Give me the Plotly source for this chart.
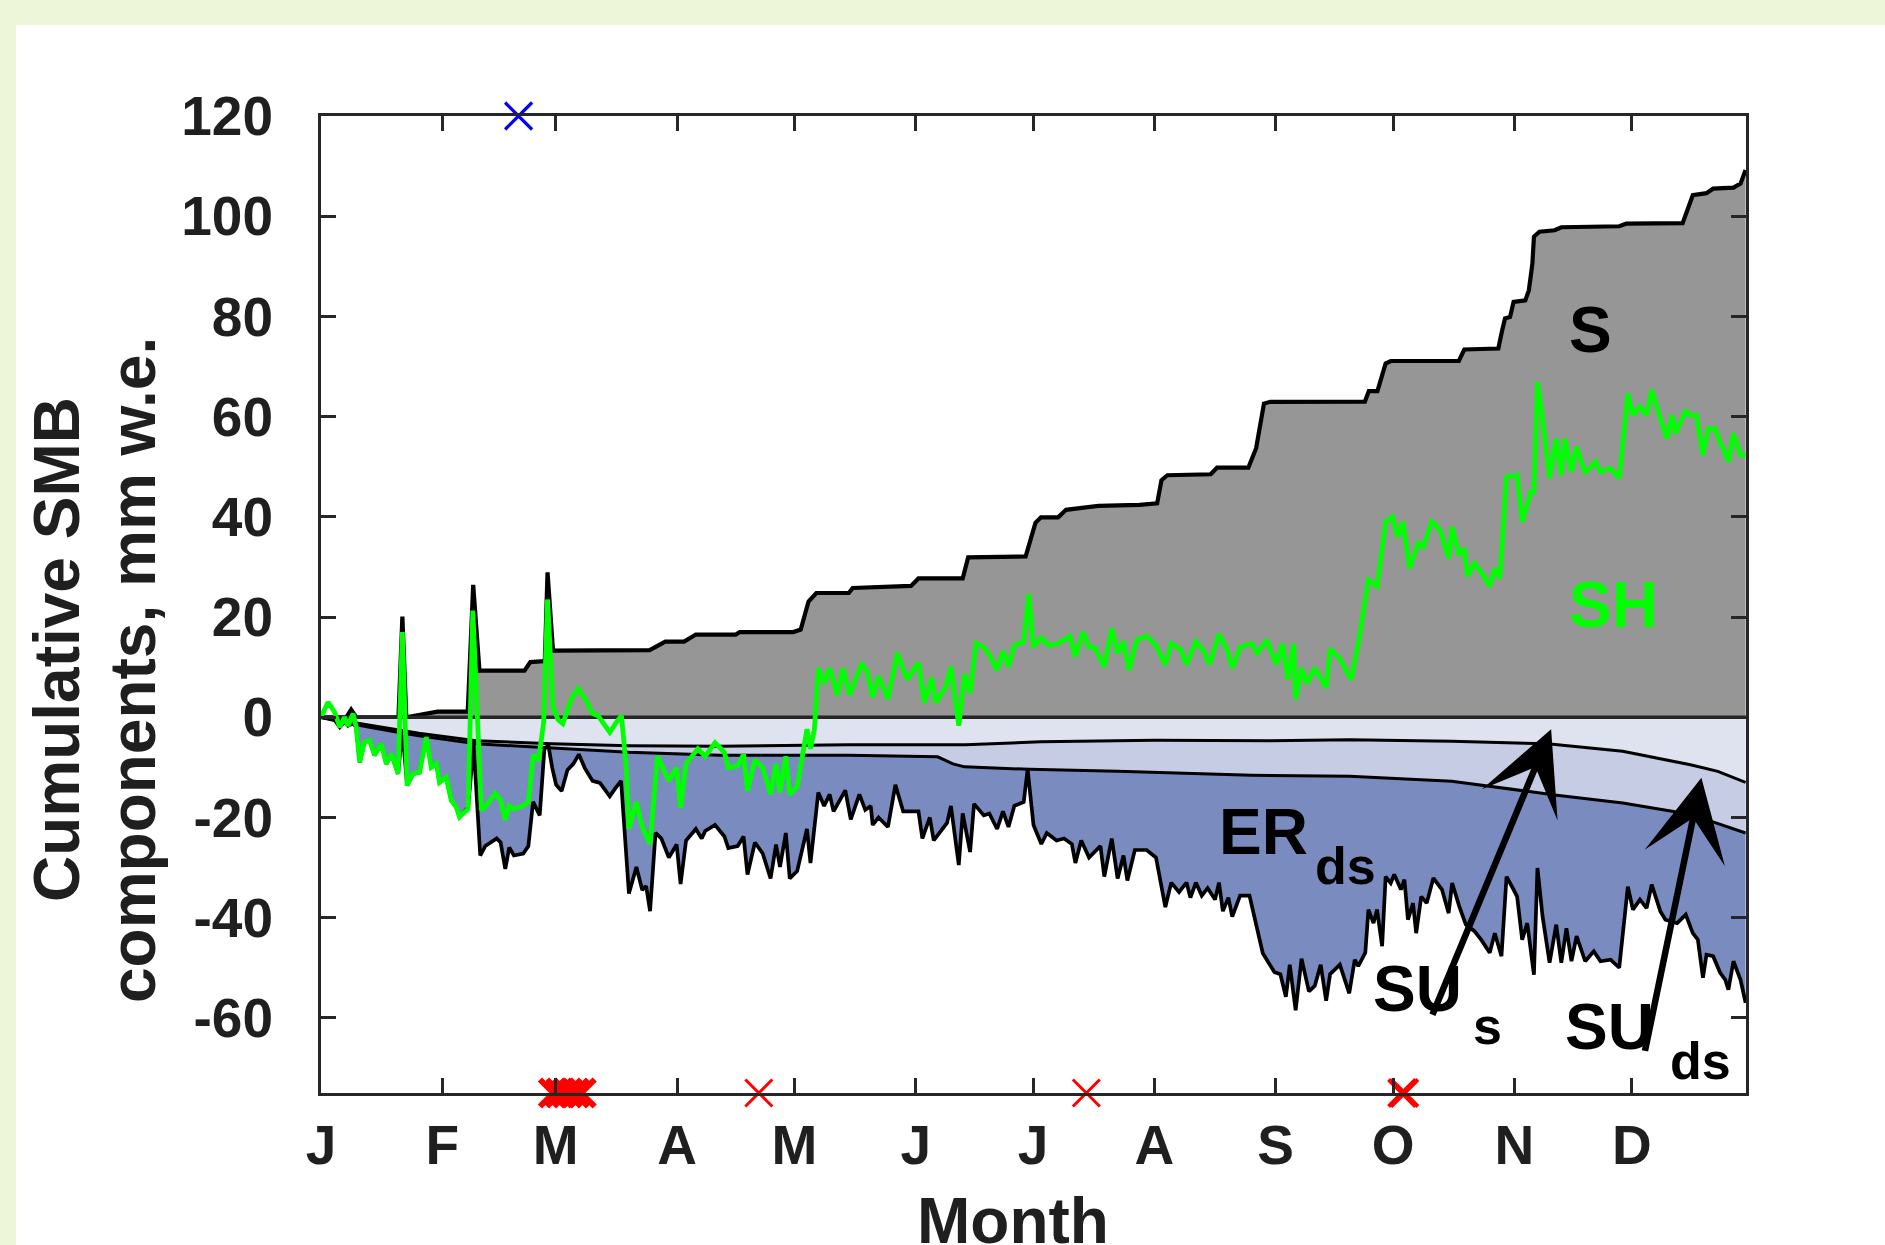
import plotly.graph_objects as go

# ---------------- axis definitions ----------------
X_MIN, X_MAX = 0, 364.2
Y_MIN, Y_MAX = -75, 120
month_tick_days = [0, 31, 60, 91, 121, 152, 182, 213, 244, 274, 305, 335]
month_labels = ["J", "F", "M", "A", "M", "J", "J", "A", "S", "O", "N", "D"]
y_tick_vals = [-60, -40, -20, 0, 20, 40, 60, 80, 100, 120]
y_tick_text = ["-60", "-40", "-20", "0", "20", "40", "60", "80", "100", "120"]

# ---------------- S : cumulative snowfall (upper envelope) ----------------
s_days = [0, 6.5, 7.7, 9, 19.8, 20.8, 21.8, 25, 29.8, 37.5, 38.9, 40.5, 52, 53.5, 57.2, 57.9,
          59.3, 84, 85.5, 88, 92.8, 95.8, 106, 107, 120.7, 122.6, 124.6, 126.6, 134.9, 135.9,
          150.8, 152.7, 164, 165.4, 180.1, 181.1, 182.6, 184, 188.4, 190.4, 198.7, 209.2, 213.7,
          214.8, 216.3, 227.4, 229, 237, 239, 241, 242.6, 266.8, 267.8, 270, 272.1, 273.4, 290.8,
          292.2, 300.9, 301.7, 302.6, 303.9, 304.8, 307.8, 308.7, 309.6, 310, 311.4, 315.3, 317,
          331.8, 333.6, 348, 350.6, 354.1, 355.8, 361, 362.8, 364.1]
s_vals = [0, 0, 1.5, 0, 0, 20.1, 0, 0.4, 1.1, 1.1, 26.4, 9.3, 9.3, 11, 11.2, 28.9,
          13.3, 13.4, 14, 15.1, 15.1, 16.5, 16.5, 17, 17, 17.5, 23.1, 24.8, 24.8, 25.8,
          26.2, 27.7, 27.7, 31.9, 32.1, 35, 38.8, 39.9, 39.9, 41.4, 42.2, 42.4, 42.7,
          47.3, 48.3, 48.5, 49.8, 49.8, 53.7, 62.6, 62.95, 63.0, 65.1, 65.1, 70.6, 71.1, 71.1,
          73.4, 73.6, 76.6, 79.6, 79.9, 82.9, 83.2, 85.2, 90.5, 95.9, 96.9, 97.2, 97.8,
          98, 98.5, 98.6, 104.2, 104.6, 105.5, 105.7, 106.5, 109.2]

# ---------------- SU_s : surface sublimation ----------------
su_s_days = [0, 9, 16.7, 25, 39.7, 59, 78.7, 102, 135, 164.8, 184, 213, 242.7, 262.9, 289,
             313.5, 332.7, 350, 357, 364.1]
su_s_vals = [0, -1.2, -2.2, -3.2, -4.7, -5.3, -5.7, -5.8, -5.5, -5.5, -4.9, -4.6, -4.7, -4.5, -4.8,
             -5.3, -6.8, -9.5, -10.8, -13.0]

# ---------------- SU_s + SU_ds : total sublimation ----------------
su_tot_days = [0, 9, 16.7, 25, 39.7, 59, 78.7, 102, 135, 157.6, 161.5, 164.5, 181.1, 203.6,
               237.8, 262.9, 289, 315.3, 332.7, 345.7, 355.4, 364.1]
su_tot_vals = [0, -1.5, -2.6, -3.7, -5.3, -6.1, -7.0, -7.6, -7.6, -7.9, -9.3, -9.9, -10.4, -10.8,
               -11.6, -11.8, -12.8, -15.5, -17.1, -18.8, -20.8, -23.1]

# ---------------- lower envelope incl. ER_ds (drifting-snow erosion) ----------------
er_days = [0, 1.8, 3.5, 4.8, 6.0, 6.9, 8.2, 9.0, 9.9, 11.1, 12.4, 13.7, 15.4, 16.7, 18.0, 19.7,
           20.8, 22.0, 23.5, 25.2, 26.9, 28.2, 29.5, 30.3, 32.0, 33.3, 34.6, 35.4, 37.6, 39.0,
           40.7, 42.0, 44.9, 45.9, 47.1, 48.1, 49.3, 51.7, 53.0, 54.2, 55.9, 57.1, 58.1, 59.1,
           60.1, 61.5, 63.0, 64.5, 65.9, 67.4, 69.4, 71.3, 73.8, 75.2, 76.7, 78.7, 80.6, 82.1,
           83.1, 84.1, 85.5, 87.0, 88.9, 90.9, 91.9, 93.3, 95.8, 97.3, 98.2, 100.7, 103.1, 104.1,
           106.5, 108.0, 109.0, 110.9, 112.9, 114.9, 116.3, 117.3, 118.8, 119.8, 121.7, 124.2,
           125.1, 127.1, 128.6, 130.0, 131.0, 134.0, 135.4, 137.6, 139.1, 140.5, 141.0, 142.5,
           144.9, 146.8, 148.8, 152.7, 153.7, 155.6, 156.6, 160.0, 161.0, 163.0, 164.0, 165.9,
           166.9, 169.4, 170.8, 172.8, 174.3, 175.7, 177.2, 179.6, 180.6, 182.1, 184.1, 185.5,
           188.0, 189.9, 191.9, 192.8, 194.3, 196.3, 199.2, 200.2, 202.1, 203.6, 205.1, 206.1,
           208.0, 211.0, 213.4, 215.8, 217.3, 219.3, 221.2, 222.2, 223.6, 225.1, 226.6, 228.5,
           229.5, 230.5, 231.9, 232.9, 234.9, 237.3, 238.8, 240.7, 243.7, 245.2, 246.6, 247.6,
           249.1, 250.6, 252.5, 254.0, 255.5, 256.9, 257.9, 260.4, 262.8, 264.2, 265.1, 266.9,
           267.7, 269.0, 269.9, 271.2, 272.1, 273.4, 274.3, 276.0, 276.9, 277.8, 279.1, 279.9,
           281.2, 282.6, 284.3, 286.5, 288.2, 289.1, 290.9, 292.6, 294.8, 296.5, 298.7, 300.0,
           301.7, 303.0, 304.8, 305.7, 307.0, 308.3, 310.0, 310.9, 312.2, 314.0, 315.7, 317.0,
           318.3, 319.6, 320.9, 323.1, 325.3, 327.0, 329.6, 331.8, 334.0, 335.3, 337.1, 338.8,
           340.1, 342.3, 343.6, 346.6, 348.8, 350.6, 351.9, 353.2, 354.1, 355.8, 357.6, 358.9,
           359.7, 361.0, 362.8, 364.1]
er_vals = [0, -0.4, -0.6, -2.0, -0.9, -1.7, -1.2, -2.0, -9.0, -5.0, -4.6, -7.6, -5.3, -9.3, -7.3, -11.3,
           -2.6, -13.6, -11.3, -11.0, -4.0, -10.0, -9.3, -13.0, -12.0, -16.6, -18.0, -19.9, -18.0, -5.5,
           -27.6, -25.7, -24.2, -25.0, -30.3, -26.0, -27.6, -27.2, -25.7, -16.9, -19.6, -6.3, -5.6, -10.1,
           -13.5, -14.7, -10.5, -9.3, -7.4, -10.1, -12.7, -13.1, -15.8, -14.2, -12.7, -35.2, -29.9, -34.5,
           -33.7, -38.7, -23.1, -24.2, -28.0, -25.4, -33.3, -24.6, -22.3, -24.2, -22.7, -21.5, -23.8, -26.1,
           -25.7, -23.8, -31.4, -25.0, -27.2, -32.2, -25.4, -29.9, -23.1, -32.2, -30.7, -22.3,
           -29.1, -15.0, -17.7, -15.4, -18.8, -14.6, -20.4, -15.4, -18.5, -17.7, -21.5, -20.0,
           -21.9, -13.5, -18.8, -18.8, -24.2, -20.0, -24.6, -21.1, -17.7, -29.5, -19.2, -26.9,
           -17.3, -19.6, -19.2, -22.3, -18.8, -21.9, -17.7, -16.9, -10.4, -21.5, -25.3, -23.1,
           -24.6, -24.2, -25.3, -29.1, -24.6, -28.0, -25.7, -31.8, -24.2, -32.2, -27.6, -32.6,
           -26.5, -26.5, -28.0, -37.9, -33.0, -34.9, -33.0, -36.0, -33.0, -35.6, -34.1, -36.4,
           -33.0, -38.7, -36.0, -39.8, -35.6, -35.6, -40.6, -47.1, -50.9, -51.3, -55.8, -49.4,
           -58.5, -48.2, -54.7, -53.6, -49.4, -56.6, -51.3, -49.4, -55.1, -48.4, -49.7, -47.0,
           -38.4, -41.1, -38.4, -45.7, -31.8, -33.1, -31.4, -34.4, -32.4, -40.4, -37.1, -43.1,
           -35.8, -37.1, -32.1, -34.4, -39.1, -33.1, -37.7, -41.4, -42.7, -44.4, -47.0, -43.1,
           -47.7, -31.8, -34.4, -35.8, -44.4, -41.1, -51.4, -30.1, -39.7, -49.0, -41.4, -49.0,
           -42.1, -48.7, -43.7, -48.7, -46.7, -48.7, -48.4, -50.0, -33.8, -38.4, -36.4, -38.1,
           -33.4, -38.7, -40.4, -41.1, -39.4, -43.1, -44.4, -52.0, -47.4, -47.7, -51.0, -52.4,
           -54.4, -48.7, -52.4, -57.0]

# ---------------- SH : surface height change (green) ----------------
sh_days = [0, 1.8, 3.5, 4.8, 6.0, 6.9, 8.2, 9.0, 9.9, 11.1, 12.4, 13.7, 15.4, 16.7, 18.0, 19.7,
           20.8, 22.0, 23.5, 25.2, 26.9, 28.2, 29.5, 30.3, 32.0, 33.3, 34.6, 35.4, 37.6, 38.8,
           41.0, 42.6, 44.5, 45.9, 47.1, 48.1, 49.3, 51.7, 53.0, 54.3, 55.6, 56.9, 57.9, 59.3,
           60.6, 61.8, 64.0, 65.7, 67.8, 69.5, 70.8, 73.8, 75.5, 76.8, 78.0, 78.7, 80.6, 82.1,
           84.1, 86.0, 88.9, 90.9, 91.9, 93.3, 96.3, 98.2, 100.7, 103.1, 104.1, 106.5, 108.0,
           109.0, 110.9, 112.9, 114.9, 116.3, 117.3, 118.8, 119.8, 121.7, 124.2, 125.1, 126.1,
           127.1, 128.6, 130.0, 132.0, 133.4, 135.1, 138.1, 139.5, 141.0, 142.5, 144.9, 147.3,
           149.8, 152.7, 154.2, 156.1, 157.1, 159.6, 161.0, 163.0, 164.5, 165.9, 167.4, 169.4,
           170.8, 172.8, 174.3, 175.7, 177.2, 179.6, 180.9, 182.1, 184.1, 186.0, 188.5, 191.4,
           192.8, 194.8, 196.3, 197.7, 200.2, 202.1, 203.6, 205.1, 206.5, 208.5, 211.0, 213.4,
           215.8, 217.3, 219.7, 221.2, 223.6, 225.6, 227.1, 229.5, 231.5, 232.9, 234.9, 237.8,
           239.3, 241.7, 244.2, 245.7, 247.1, 248.6, 249.1, 250.6, 252.0, 254.0, 256.9, 257.9,
           260.4, 263.3, 265.2, 267.7, 269.9, 272.1, 273.8, 275.2, 276.5, 278.2, 280.4, 281.7,
           283.9, 286.0, 288.2, 289.1, 290.8, 292.2, 293.0, 294.8, 297.0, 298.7, 300.0, 301.3,
           303.0, 305.7, 307.0, 309.2, 310.0, 310.9, 312.2, 314.0, 315.7, 317.0, 317.9, 319.6,
           320.9, 323.1, 325.7, 327.0, 329.6, 331.8, 334.0, 335.3, 337.1, 338.8, 340.1, 341.9,
           344.0, 345.3, 346.2, 348.8, 349.7, 351.5, 353.2, 354.5, 356.3, 357.6, 358.4, 359.7,
           361.0, 362.8, 364.1]
sh_vals = [0, 3.0, 1.0, -2.0, 0, -1.7, 0.7, -2.0, -9.0, -5.0, -4.6, -7.6, -5.3, -9.3, -7.3, -11.3,
           17.0, -13.6, -11.3, -11.0, -4.0, -10.0, -9.3, -13.0, -12.0, -16.6, -18.0, -19.9, -18.3, 21.3,
           -18.6, -17.3, -15.2, -16.5, -20.5, -17.7, -18.3, -17.7, -16.9, -7.5, -8.6, -1.0, 23.5, 2.0,
           -0.5, -1.3, 3.7, 5.7, 3.3, 0.7, 0.3, -3.0, -1.0, 0.3, -10.0, -22.3, -16.9, -21.9,
           -25.3, -7.8, -12.7, -10.1, -18.1, -9.3, -6.3, -7.8, -5.1, -7.0, -10.1, -9.7, -7.4,
           -14.7, -8.5, -10.1, -15.4, -9.3, -15.0, -7.8, -15.4, -13.9, -2.4, -6.3, -2.4,
           9.8, 6.7, 9.8, 4.4, 9.8, 4.4, 10.5, 9.4, 4.0, 8.2, 3.6, 12.8,
           7.5, 10.9, 2.9, 7.9, 2.9, 5.9, 10.1, -1.7, 8.6, 4.8, 14.7, 14.0,
           12.4, 9.4, 13.2, 10.1, 14.3, 15.1, 24.6, 14.0, 15.9, 14.3, 14.7, 16.2,
           12.1, 17.0, 14.0, 14.0, 10.1, 17.7, 12.8, 15.1, 9.4, 15.4, 16.2, 14.3,
           10.5, 14.7, 13.6, 10.5, 15.1, 13.2, 10.5, 16.6, 13.6, 9.8, 14.0, 14.7,
           12.8, 15.4, 10.5, 14.7, 7.5, 14.7, 3.6, 9.8, 6.7, 9.8, 5.9, 13.6,
           11.7, 7.5, 15.1, 27.4, 26.1, 39.0, 40.0, 36.0, 39.0, 29.7, 34.7, 34.0,
           39.0, 37.4, 31.7, 38.0, 32.4, 33.7, 28.1, 30.7, 28.4, 26.1, 29.7, 27.7,
           48.0, 48.3, 39.0, 45.0, 45.0, 66.9, 59.6, 47.7, 55.6, 48.3, 55.6, 49.0,
           54.0, 48.7, 51.0, 49.0, 49.7, 47.7, 64.6, 60.3, 62.0, 60.3, 65.3, 60.6,
           55.6, 60.3, 56.6, 61.3, 60.3, 60.3, 52.3, 57.6, 57.6, 54.7, 53.7, 51.0,
           56.6, 52.3, 52.3]

# ---------------- event markers ----------------
blue_event_days = [50.5]
red_cluster_days = [59.4, 61.2, 63.0, 64.8, 66.5]
red_event_days = [111.9, 195.6]
red_double_days = [276.3, 276.9]

# ---------------- styling ----------------
FONT = "Liberation Sans, Arial, sans-serif"
AX_COL = "#262626"
GRAY = "#969696"
LIGHT1 = "#DFE3EF"
LIGHT2 = "#C5CCE4"
DARK = "#7A8BBF"
GREEN = "#00FF00"

fig = go.Figure()

fig.add_trace(go.Scatter(x=s_days, y=s_vals, mode="lines", fill="tozeroy", fillcolor=GRAY,
                         line=dict(color="black", width=4.2), hoverinfo="skip"))
fig.add_trace(go.Scatter(x=su_s_days, y=su_s_vals, mode="lines", fill="tozeroy", fillcolor=LIGHT1,
                         line=dict(color="black", width=3), hoverinfo="skip"))
fig.add_trace(go.Scatter(x=su_tot_days, y=su_tot_vals, mode="lines", fill="tonexty", fillcolor=LIGHT2,
                         line=dict(color="black", width=3), hoverinfo="skip"))
fig.add_trace(go.Scatter(x=er_days, y=er_vals, mode="lines", fill="tonexty", fillcolor=DARK,
                         line=dict(color="black", width=3.7), hoverinfo="skip"))
# zero reference line
fig.add_trace(go.Scatter(x=[X_MIN, X_MAX], y=[0, 0], mode="lines",
                         line=dict(color=AX_COL, width=3.5), hoverinfo="skip"))
fig.add_trace(go.Scatter(x=sh_days, y=sh_vals, mode="lines",
                         line=dict(color=GREEN, width=4.8), hoverinfo="skip"))
fig.add_trace(go.Scatter(x=blue_event_days, y=[Y_MAX] * len(blue_event_days), mode="markers",
                         marker=dict(symbol="x-thin", size=27, line=dict(color="#0000FF", width=3.2)),
                         cliponaxis=False, hoverinfo="skip"))
fig.add_trace(go.Scatter(x=red_cluster_days, y=[Y_MIN] * len(red_cluster_days), mode="markers",
                         marker=dict(symbol="x-thin", size=27, line=dict(color="#FF0000", width=6)),
                         cliponaxis=False, hoverinfo="skip"))
fig.add_trace(go.Scatter(x=red_event_days, y=[Y_MIN] * len(red_event_days), mode="markers",
                         marker=dict(symbol="x-thin", size=27, line=dict(color="#FF0000", width=3)),
                         cliponaxis=False, hoverinfo="skip"))
fig.add_trace(go.Scatter(x=red_double_days, y=[Y_MIN] * len(red_double_days), mode="markers",
                         marker=dict(symbol="x-thin", size=27, line=dict(color="#FF0000", width=4)),
                         cliponaxis=False, hoverinfo="skip"))

axis_common = dict(showgrid=False, zeroline=False, showline=True, linewidth=3, linecolor=AX_COL,
                   mirror="ticks", ticks="inside", ticklen=15, tickwidth=2.5, tickcolor=AX_COL,
                   tickfont=dict(family=FONT, size=55, color="#1f1f1f", weight="bold"))

fig.update_xaxes(range=[X_MIN, X_MAX], tickmode="array", tickvals=month_tick_days,
                 ticktext=month_labels, ticklabelstandoff=2, **axis_common)
fig.update_yaxes(range=[Y_MIN, Y_MAX], tickmode="array", tickvals=y_tick_vals,
                 ticktext=y_tick_text, ticklabelstandoff=34, **axis_common)

W, H = 1885, 1245
L, R, T, B = 321, 139, 116, 152
pw, ph = W - L - R, H - T - B


def px_x(p):
    return (p - L) / pw


def px_y(p):
    return (H - B - p) / ph


# white panel over light-green page
fig.add_shape(type="rect", xref="paper", yref="paper", x0=px_x(16), x1=px_x(W + 5),
              y0=px_y(H + 5), y1=px_y(25), fillcolor="white", line=dict(width=0), layer="below")

title_font = dict(family=FONT, size=64, color="#1f1f1f", weight="bold")
fig.add_annotation(text="Cumulative SMB", xref="paper", yref="paper", x=px_x(57), y=px_y(650),
                   textangle=-90, showarrow=False, font=title_font, xanchor="center", yanchor="middle")
fig.add_annotation(text="components, mm w.e.", xref="paper", yref="paper", x=px_x(133), y=px_y(670),
                   textangle=-90, showarrow=False, font=title_font, xanchor="center", yanchor="middle")
fig.add_annotation(text="Month", xref="paper", yref="paper", x=px_x(1013), y=px_y(1221),
                   showarrow=False, font=title_font, xanchor="center", yanchor="middle")

lab = dict(family=FONT, size=64, color="black", weight="bold")
sub = dict(family=FONT, size=52, color="black", weight="bold")
fig.add_annotation(text="S", x=324.4, y=77.3, showarrow=False, font=lab)
fig.add_annotation(text="SH", x=330.4, y=22.4, showarrow=False, font=dict(lab, color=GREEN))
fig.add_annotation(text="ER", x=241.0, y=-22.9, showarrow=False, font=lab)
fig.add_annotation(text="ds", x=261.8, y=-29.6, showarrow=False, font=sub)
fig.add_annotation(text="SU", x=280.2, y=-54.2, showarrow=False, font=lab)
fig.add_annotation(text="s", x=298.2, y=-61.6, showarrow=False, font=sub)
fig.add_annotation(text="SU", x=329.2, y=-61.8, showarrow=False, font=lab)
fig.add_annotation(text="ds", x=352.5, y=-68.6, showarrow=False, font=sub)

# arrows
for (tx, ty, hx, hy) in [(283.9, -59.7, 314.4, -2.4), (338.3, -66.9, 352.8, -12.1)]:
    fig.add_annotation(x=hx, y=hy, ax=tx, ay=ty, xref="x", yref="y", axref="x", ayref="y",
                       text="", showarrow=True, arrowhead=3, arrowsize=2.1, arrowwidth=6.5,
                       arrowcolor="black")

fig.update_layout(width=W, height=H, margin=dict(l=L, r=R, t=T, b=B),
                  paper_bgcolor="#EDF6D9", plot_bgcolor="white", showlegend=False)

fig.write_html("out.html", config={"displayModeBar": False},
               post_script="document.body.style.margin='0px';")
